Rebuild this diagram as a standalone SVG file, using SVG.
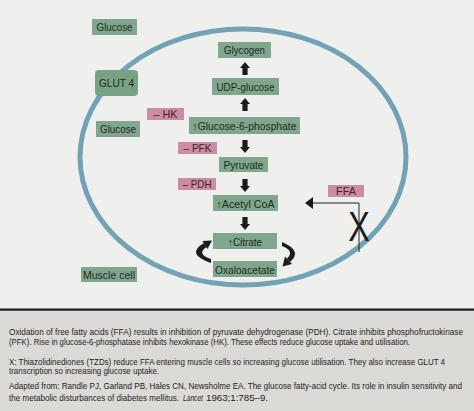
<svg xmlns="http://www.w3.org/2000/svg" width="474" height="411" viewBox="0 0 474 411">
<style>
.g{fill:#80a78d}
.p{fill:#c98ea2}
.t{font-family:"Liberation Sans",Arial,sans-serif;font-size:11px;fill:#1c2a21;text-anchor:middle}
.tp{font-family:"Liberation Sans",Arial,sans-serif;font-size:10.5px;fill:#4d1a2c;text-anchor:middle}
.c{font-family:"Liberation Sans",Arial,sans-serif;font-size:8.6px;fill:#222}
.ar{fill:#1b1b1b}
</style>
<defs>
<path id="up" d="M0,0 L5,6 L2.6,6 L2.6,13 L-2.6,13 L-2.6,6 L-5,6 Z"/>
</defs>
<rect x="0" y="0" width="474" height="310" fill="#efefed"/>
<rect x="0" y="310" width="474" height="101" fill="#dcdad6"/>
<rect x="0" y="308.5" width="474" height="2.2" fill="#1a1a1a"/>
<ellipse id="cell" cx="243" cy="157" rx="163" ry="128" fill="none" stroke="#72a2b6" stroke-width="5"/>
<g id="glucose-out"><rect class="g" x="92" y="19" width="45" height="16"/><text class="t" x="114.5" y="31" textLength="36" lengthAdjust="spacingAndGlyphs">Glucose</text></g>
<g id="glut4"><rect x="95" y="70" width="43" height="26" rx="4" fill="#79a184"/><text class="t" x="116.5" y="87" textLength="35" lengthAdjust="spacingAndGlyphs">GLUT 4</text></g>
<g id="glucose-in"><rect class="g" x="96" y="121" width="44" height="16"/><text class="t" x="118" y="133" textLength="36" lengthAdjust="spacingAndGlyphs">Glucose</text></g>
<g id="hk"><rect class="p" x="147" y="108" width="37" height="12"/><text class="tp" x="165.5" y="118" textLength="24" lengthAdjust="spacingAndGlyphs">– HK</text></g>
<g id="glycogen"><rect class="g" x="218" y="42" width="53" height="16"/><text class="t" x="244.5" y="54" textLength="41" lengthAdjust="spacingAndGlyphs">Glycogen</text></g>
<g id="udp-glucose"><rect class="g" x="212" y="78" width="67" height="17"/><text class="t" x="245.5" y="90.5" textLength="58" lengthAdjust="spacingAndGlyphs">UDP-glucose</text></g>
<g id="g6p"><rect class="g" x="189" y="117" width="111" height="17"/><text class="t" x="244.5" y="130" textLength="104" lengthAdjust="spacingAndGlyphs">↑Glucose-6-phosphate</text></g>
<g id="pfk"><rect class="p" x="178" y="142" width="39" height="12"/><text class="tp" x="197.5" y="152" textLength="28" lengthAdjust="spacingAndGlyphs">– PFK</text></g>
<g id="pyruvate"><rect class="g" x="219" y="157" width="49" height="15"/><text class="t" x="243.5" y="169" textLength="40" lengthAdjust="spacingAndGlyphs">Pyruvate</text></g>
<g id="pdh"><rect class="p" x="178" y="178" width="38" height="12"/><text class="tp" x="197" y="188" textLength="29" lengthAdjust="spacingAndGlyphs">– PDH</text></g>
<g id="acetyl-coa"><rect class="g" x="213" y="195" width="65" height="16"/><text class="t" x="245.5" y="207.5" textLength="58" lengthAdjust="spacingAndGlyphs">↑Acetyl CoA</text></g>
<g id="citrate"><rect class="g" x="213" y="233" width="64" height="16"/><text class="t" x="245" y="245.5" textLength="34" lengthAdjust="spacingAndGlyphs">↑Citrate</text></g>
<g id="oxaloacetate"><rect class="g" x="213" y="261" width="64" height="16"/><text class="t" x="245" y="273.5" textLength="60" lengthAdjust="spacingAndGlyphs">Oxaloacetate</text></g>
<g id="ffa"><rect class="p" x="328" y="185" width="36" height="12"/><text class="tp" x="346" y="195" textLength="20" lengthAdjust="spacingAndGlyphs">FFA</text></g>
<g id="muscle-cell"><rect class="g" x="81" y="267" width="56" height="15"/><text class="t" x="109" y="279" textLength="52" lengthAdjust="spacingAndGlyphs">Muscle cell</text></g>
<g id="connectors">
<use href="#up" class="ar" x="245" y="62"/>
<use href="#up" class="ar" x="245" y="98"/>
<use href="#up" class="ar" transform="translate(245,153) rotate(180)"/>
<use href="#up" class="ar" transform="translate(245,192) rotate(180)"/>
<use href="#up" class="ar" transform="translate(245,230) rotate(180)"/>
<path class="ar" d="M211,263 Q185,254 204,243 L206.5,247 Q196,254 211,259 Z"/>
<polygon class="ar" points="212,240.5 207.5,249 202.5,241"/>
<path class="ar" d="M282,242 Q303,251 290,262 L287,258.5 Q295,251 282,246 Z"/>
<polygon class="ar" points="282.5,266.5 292,264 285,256.5"/>
<polyline points="359,252 359,203 312,203" fill="none" stroke="#222" stroke-width="1"/>
<polygon class="ar" points="305,203 313,197 313,209"/>
<text x="359" y="241" font-family="Liberation Sans,Arial,sans-serif" font-size="43" fill="#1b1b1b" text-anchor="middle" transform="translate(359,0) scale(0.75,1) translate(-359,0)">X</text>
</g>
<g id="caption" transform="scale(0.88,1)">
<text class="c" x="10.23" y="335" textLength="515.9" lengthAdjust="spacingAndGlyphs">Oxidation of free fatty acids (FFA) results in inhibition of pyruvate dehydrogenase (PDH). Citrate inhibits phosphofructokinase</text>
<text class="c" x="10.23" y="345" textLength="455.7" lengthAdjust="spacingAndGlyphs">(PFK). Rise in glucose-6-phosphatase inhibits hexokinase (HK). These effects reduce glucose uptake and utilisation.</text>
<text class="c" x="10.23" y="365" textLength="495.5" lengthAdjust="spacingAndGlyphs">X: Thiazolidinediones (TZDs) reduce FFA entering muscle cells so increasing glucose utilisation. They also increase GLUT 4</text>
<text class="c" x="10.23" y="374" textLength="170.5" lengthAdjust="spacingAndGlyphs">transcription so increasing glucose uptake.</text>
<text class="c" x="10.23" y="389" textLength="514.8" lengthAdjust="spacingAndGlyphs">Adapted from: Randle PJ, Garland PB, Hales CN, Newsholme EA. The glucose fatty-acid cycle. Its role in insulin sensitivity and</text>
<text class="c" x="10.23" y="401" textLength="193.2" lengthAdjust="spacingAndGlyphs">the metabolic disturbances of diabetes mellitus.</text>
<text class="c" x="207.95" y="401" font-style="italic" textLength="22.7" lengthAdjust="spacingAndGlyphs">Lancet</text>
<text class="c" x="234.1" y="401" textLength="70.5" lengthAdjust="spacingAndGlyphs">1963;1:785–9.</text>
</g>
</svg>
